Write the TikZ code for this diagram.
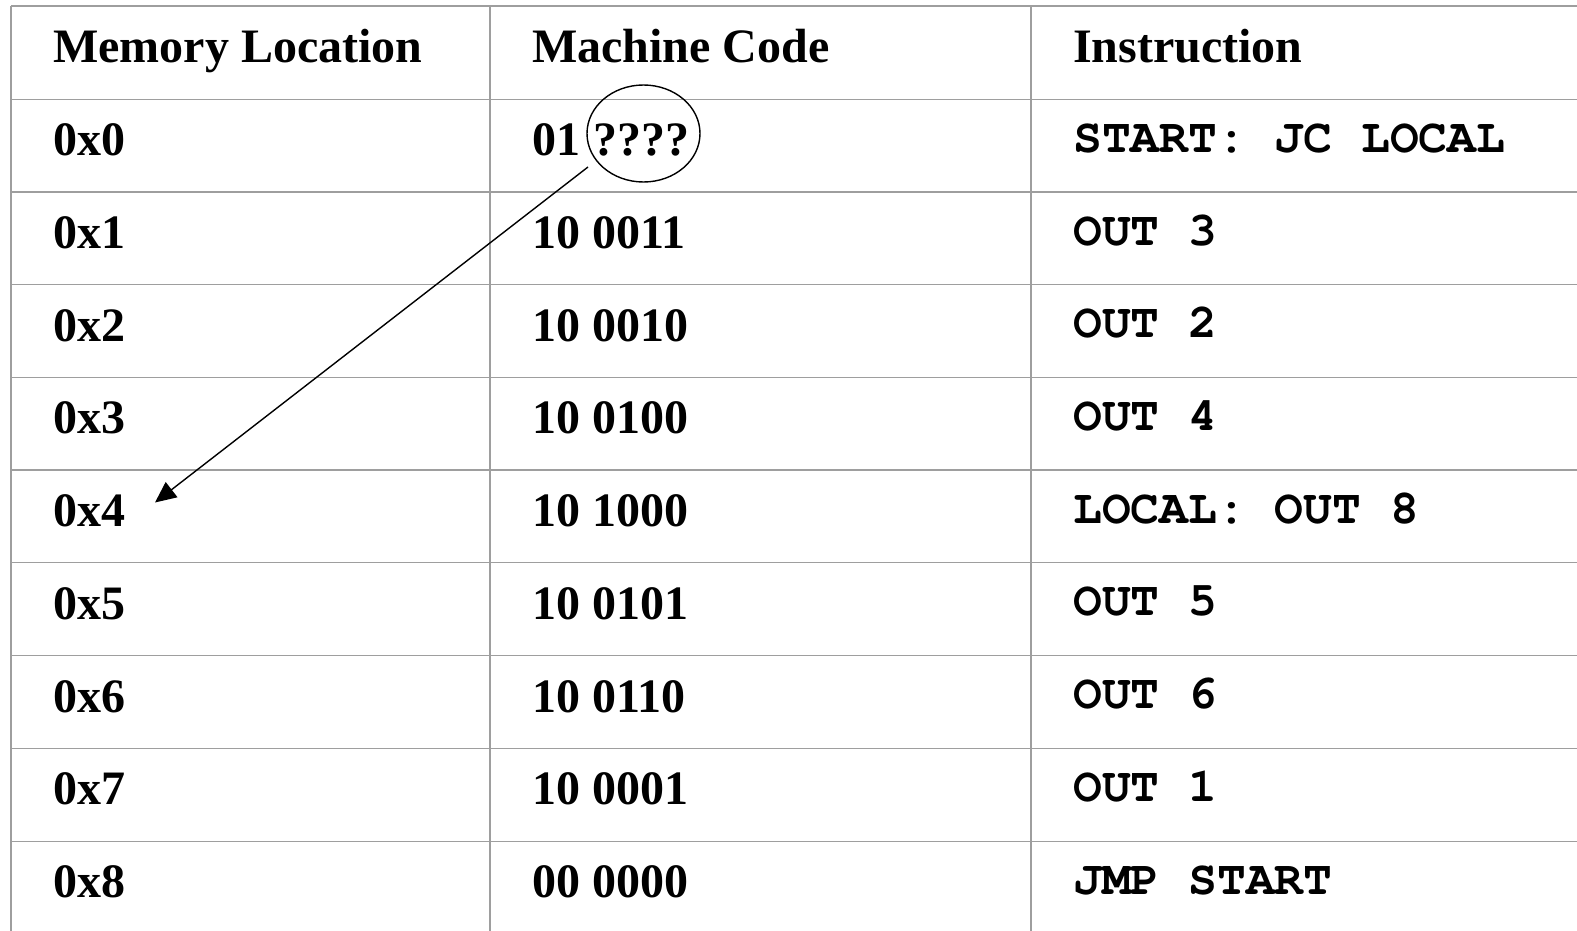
\documentclass[tikz,border=0pt]{standalone}
\usepackage{fontspec}
\setmainfont{Liberation Serif}
\newfontfamily\monofnt{TeX Gyre Cursor}
\usetikzlibrary{arrows.meta,shapes.geometric}
\begin{document}
\begin{tikzpicture}[x=1pt,y=-1pt,
  grid/.style={draw=black!38,line width=1.3pt},
  serif/.style={anchor=base west,inner sep=0pt,font=\fontsize{48}{56}\selectfont\bfseries},
  code/.style={anchor=base west,inner sep=0pt,font=\fontsize{48}{56}\selectfont\monofnt\bfseries},
  ringmark/.style={draw,ellipse,line width=1.4pt,minimum width=113pt,minimum height=97pt,inner sep=0pt}]
\useasboundingbox (0,0) rectangle (1577,931);
% grid
\foreach \y in {6,99.3,192,284.7,377.4,470.1,562.8,655.5,748.2,841.8}
  \draw[grid] (11,\y) -- (1577,\y);
\foreach \x in {11,490,1031}
  \draw[grid] (\x,6) -- (\x,931);
% header
\node[serif] (h1) at (53,62.5) {Memory Location};
\node[serif] (h2) at (532,62.5) {Machine Code};
\node[serif] (h3) at (1073,62.5) {Instruction};
% rows
\foreach \i/\m/\c in {0/0x0/01,1/0x1/10 0011,2/0x2/10 0010,3/0x3/10 0100,4/0x4/10 1000,5/0x5/10 0101,6/0x6/10 0110,7/0x7/10 0001,8/0x8/00 0000}{
  \node[serif] (m\i) at (53,{99.3+92.72*\i+56.5}) {\m};
  \node[serif] (c\i) at (532,{99.3+92.72*\i+56.5}) {\c};
}
\node[serif] (q) at (593,155.8) {????};
\foreach \i/\t in {0/START: JC LOCAL,1/OUT 3,2/OUT 2,3/OUT 4,4/LOCAL: OUT 8,5/OUT 5,6/OUT 6,7/OUT 1,8/JMP START}
  \node[code] (t\i) at (1073,{99.3+92.72*\i+53}) {\t};
% circle and arrow
\node[ringmark] (circ) at (643.5,133.5) {};
\coordinate (from) at (588,167);
\coordinate (to) at (155,502.5);
\draw[line width=1.4pt,-{Triangle[length=21pt,width=19pt]}] (from) -- (to);
\end{tikzpicture}
\end{document}
